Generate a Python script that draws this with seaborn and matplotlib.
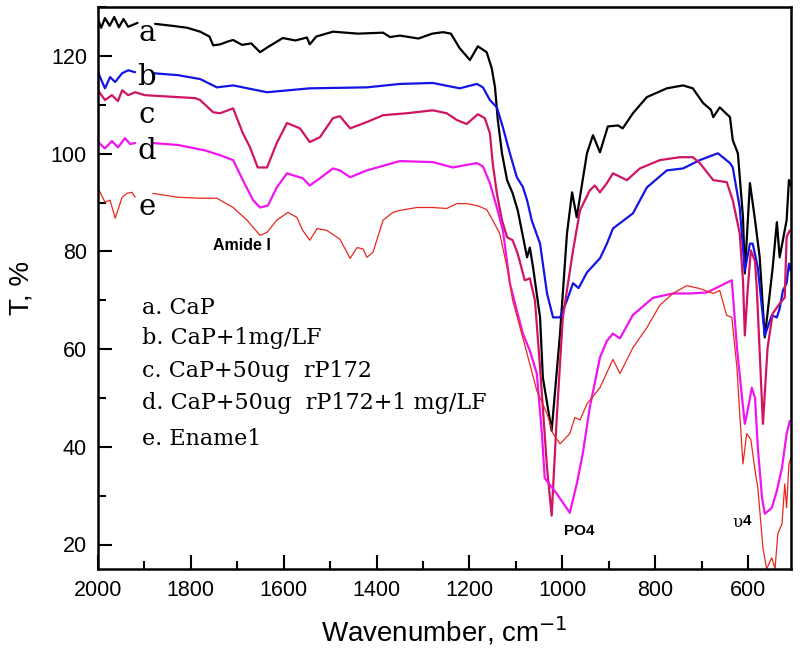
import numpy as np
import pandas as pd
import seaborn as sns
import matplotlib.pyplot as plt
from matplotlib.ticker import MultipleLocator

nan = np.nan

# FTIR spectra (wavenumber in cm-1, transmittance in %)
# nan marks the break in each trace where the curve letter sits
wn_a = [2000, 1993, 1985, 1975, 1965, 1955, 1945, 1935, 1915, 1905, 1877, 1840, 1808, 1780,
        1760, 1752, 1737, 1720, 1709, 1690, 1670, 1651, 1635, 1602, 1575, 1550, 1544, 1530,
        1494, 1440, 1386, 1371, 1350, 1310, 1280, 1257, 1240, 1221, 1199, 1182, 1163, 1152,
        1145, 1139, 1130, 1119, 1107, 1096, 1076, 1070, 1063, 1048, 1042, 1023, 1005, 990,
        979, 969, 947, 934, 919, 902, 880, 870, 848, 818, 775, 740, 719, 697, 680, 675, 661,
        639, 633, 622, 611, 607, 596, 585, 575, 564, 547, 538, 532, 517, 512, 508]
t_a = [127.5, 125.8, 127.8, 126.2, 128.0, 125.9, 127.6, 126.0, 126.8, nan, 126.6, 126.2, 125.8,
       125.0, 124.0, 122.2, 122.4, 123.0, 123.3, 122.3, 122.6, 120.8, 121.8, 123.7, 123.2,
       123.8, 122.4, 124.0, 125.0, 124.6, 124.8, 123.9, 124.2, 123.6, 124.6, 124.9, 124.6,
       121.6, 119.2, 122.0, 120.8, 117.5, 113.6, 106.9, 100.1, 94.6, 91.9, 88.4, 78.8, 80.8,
       76.7, 66.5, 54.2, 43.3, 63.2, 83.7, 92.1, 87.0, 100.1, 103.8, 100.3, 105.6, 105.8,
       105.2, 108.3, 111.6, 113.4, 114.0, 113.4, 110.4, 109.0, 107.5, 109.5, 107.5, 102.8,
       100.1, 87.0, 75.5, 94.0, 86.4, 78.8, 62.4, 76.7, 86.0, 78.8, 86.4, 94.6, 93.5]

wn_b = [2000, 1985, 1974, 1963, 1948, 1935, 1920, 1905, 1882, 1828, 1780, 1744, 1709, 1636,
        1544, 1421, 1350, 1279, 1221, 1184, 1171, 1156, 1141, 1128, 1113, 1098, 1085, 1076,
        1066, 1048, 1033, 1020, 1005, 990, 977, 965, 947, 919, 904, 891, 848, 818, 775, 740,
        704, 665, 639, 633, 618, 607, 596, 590, 579, 564, 549, 538, 532, 525, 517, 512, 508]
t_b = [116.7, 113.4, 115.7, 114.7, 116.5, 117.1, 116.7, nan, 116.5, 116.1, 115.3, 113.6, 114.0,
       112.6, 113.4, 113.6, 114.3, 114.5, 113.4, 114.3, 113.6, 111.0, 109.5, 105.4, 100.1,
       95.2, 93.2, 90.5, 86.4, 81.6, 71.4, 66.5, 66.5, 70.0, 73.5, 72.5, 75.7, 78.6, 81.6,
       84.7, 87.8, 93.1, 96.6, 97.0, 98.7, 100.1, 98.1, 97.2, 89.0, 76.1, 81.6, 81.6, 76.7,
       62.8, 66.9, 66.5, 68.3, 72.0, 73.5, 77.5, 76.0]

wn_c = [2000, 1985, 1970, 1957, 1948, 1935, 1920, 1899, 1828, 1791, 1780, 1752, 1737, 1709,
        1688, 1673, 1656, 1636, 1615, 1593, 1565, 1544, 1522, 1494, 1479, 1457, 1421, 1386,
        1335, 1279, 1249, 1227, 1206, 1182, 1167, 1156, 1150, 1141, 1130, 1119, 1107, 1096,
        1081, 1070, 1059, 1048, 1033, 1023, 1012, 999, 977, 962, 941, 930, 919, 904, 891,
        861, 833, 790, 747, 719, 704, 675, 646, 633, 618, 611, 607, 601, 594, 585, 581, 568,
        558, 547, 532, 521, 517, 510]
t_c = [113.0, 111.0, 112.0, 110.8, 113.0, 112.0, 112.6, 112.0, 111.6, 111.4, 111.0, 108.5,
       108.3, 109.3, 104.2, 101.4, 97.2, 97.2, 102.2, 106.3, 105.2, 102.4, 103.4, 107.3,
       107.7, 105.2, 106.5, 107.9, 108.3, 108.9, 108.3, 106.9, 106.1, 108.1, 107.3, 104.2,
       98.1, 91.9, 86.4, 82.9, 82.3, 79.5, 74.1, 74.5, 70.0, 56.2, 35.7, 25.9, 46.0, 66.5,
       80.2, 88.4, 92.5, 93.5, 92.1, 94.0, 96.0, 94.6, 97.0, 98.7, 99.3, 99.3, 98.1, 94.6,
       94.2, 90.5, 83.7, 74.0, 62.8, 72.0, 80.2, 78.0, 72.0, 44.7, 60.3, 67.3, 69.3, 70.6,
       83.0, 84.3]

wn_d = [2000, 1985, 1970, 1957, 1942, 1931, 1920, 1905, 1882, 1828, 1770, 1737, 1709, 1688,
        1666, 1651, 1634, 1615, 1593, 1580, 1559, 1544, 1522, 1494, 1479, 1457, 1421, 1350,
        1279, 1236, 1184, 1171, 1156, 1141, 1128, 1113, 1098, 1085, 1070, 1055, 1044, 1038,
        1012, 984, 969, 956, 941, 919, 904, 891, 876, 848, 805, 762, 725, 689, 667, 644, 635,
        624, 613, 607, 601, 592, 585, 579, 570, 564, 549, 538, 527, 517, 510]
t_d = [102.4, 101.1, 102.6, 101.3, 103.2, 102.0, 102.2, nan, 102.2, 101.8, 100.7, 99.7, 98.7,
       94.6, 90.5, 89.0, 89.4, 93.1, 96.0, 95.6, 95.0, 93.5, 95.0, 97.0, 96.6, 95.2, 96.6,
       98.5, 98.3, 97.2, 98.1, 97.4, 94.0, 89.0, 84.3, 73.5, 67.9, 63.2, 59.7, 55.0, 42.7,
       33.6, 30.4, 26.5, 32.4, 38.6, 48.0, 58.3, 61.7, 63.2, 62.2, 67.0, 70.5, 71.4, 71.4,
       71.6, 72.6, 73.7, 74.1, 60.3, 50.1, 44.7, 47.4, 52.1, 50.0, 39.8, 29.6, 26.3, 27.5,
       31.0, 35.7, 42.7, 45.3]

wn_e = [2000, 1985, 1974, 1963, 1948, 1938, 1927, 1920, 1905, 1882, 1828, 1780, 1744, 1709,
        1679, 1651, 1636, 1615, 1591, 1572, 1559, 1544, 1528, 1507, 1479, 1457, 1442, 1429,
        1421, 1408, 1386, 1365, 1350, 1313, 1279, 1249, 1227, 1206, 1184, 1163, 1150, 1135,
        1119, 1107, 1091, 1076, 1055, 1033, 1020, 1005, 984, 973, 962, 947, 919, 891, 876,
        848, 818, 790, 762, 732, 704, 675, 661, 646, 635, 624, 618, 611, 603, 594, 585, 579,
        568, 560, 549, 542, 536, 527, 521, 517, 512, 508]
t_e = [93.0, 90.1, 90.5, 86.8, 91.1, 91.9, 92.1, 91.1, nan, 91.9, 91.1, 90.9, 90.9, 89.0,
       86.4, 83.3, 83.9, 86.4, 88.0, 87.0, 84.3, 82.3, 84.7, 84.3, 82.5, 78.6, 80.8, 80.5,
       78.8, 79.8, 86.4, 88.0, 88.4, 89.0, 89.0, 88.8, 89.8, 89.8, 89.4, 88.6, 86.4, 83.7,
       76.7, 70.0, 64.4, 59.1, 51.5, 46.8, 42.7, 40.6, 42.7, 46.0, 45.5, 48.8, 52.1, 57.9,
       55.0, 60.3, 64.4, 69.0, 71.4, 73.0, 72.4, 71.4, 72.0, 66.9, 66.5, 56.2, 46.8, 36.5,
       42.7, 41.5, 35.1, 31.6, 19.3, 15.0, 17.3, 15.0, 22.2, 24.2, 32.4, 27.5, 36.5, 37.7]

letters = ["a", "b", "c", "d", "e"]
letter_y = [124.7, 115.8, 108.0, 100.6, 89.2]
legend_lines = ["a. CaP", "b. CaP+1mg/LF", "c. CaP+50ug  rP172",
                "d. CaP+50ug  rP172+1 mg/LF", "e. Ename1"]
legend_y = [68.5, 62.2, 55.5, 49.0, 41.6]
colors = ["#000000", "#1414E6", "#D01464", "#F014F0", "#E8281E"]
widths = [1.6, 1.6, 1.6, 1.6, 0.9]

sns.set_theme(style="ticks")
plt.rcParams['font.family'] = ['Liberation Sans', 'DejaVu Sans']
plt.rcParams['text.color'] = 'black'
plt.rcParams['axes.labelcolor'] = 'black'

fig = plt.figure(figsize=(8, 6.6), dpi=100)
ax = fig.add_axes([0.1225, 0.138, 0.866, 0.851])

series = [(wn_a, t_a), (wn_b, t_b), (wn_c, t_c), (wn_d, t_d), (wn_e, t_e)]
for i, (wn, t) in enumerate(series):
    df = pd.DataFrame({"wn": wn, "T": t})
    # split at the nan break so the two pieces are drawn apart
    seg_id = df["T"].isna().cumsum()
    for _, seg in df.dropna().groupby(seg_id[df["T"].notna()]):
        sns.lineplot(data=seg, x="wn", y="T", ax=ax, color=colors[i],
                     linewidth=widths[i], sort=False, estimator=None)

ax.set_xlim(2000, 508)
ax.set_ylim(15, 130)
ax.xaxis.set_major_locator(MultipleLocator(200))
ax.xaxis.set_minor_locator(MultipleLocator(100))
ax.yaxis.set_major_locator(MultipleLocator(20))
ax.yaxis.set_minor_locator(MultipleLocator(10))
ax.tick_params(which="major", direction="in", length=10, width=1.5, labelsize=15.5,
               top=False, right=False, pad=8, colors="black")
ax.tick_params(which="minor", direction="in", length=6, width=1.5, top=False, right=False,
               colors="black")
for s in ax.spines.values():
    s.set_linewidth(1.8)
    s.set_color("black")

ax.set_xlabel("Wavenumber, cm$^{-1}$", fontsize=20, labelpad=10)
ax.set_ylabel("T, %", fontsize=20, labelpad=12)

for lab, y in zip(letters, letter_y):
    ax.text(1895, y, lab, fontsize=21, family="DejaVu Serif", ha="center", va="center")

for line, y in zip(legend_lines, legend_y):
    ax.text(1906, y, line, fontsize=16, family="DejaVu Serif", ha="left", va="center")

ax.text(1690, 81.3, "Amide I", fontsize=11.5, fontweight="bold", ha="center", va="center")
ax.text(964, 22.8, "PO4", fontsize=11, fontweight="bold", ha="center", va="center")
ax.text(612, 24.6, "\u03c5", fontsize=12, family="DejaVu Serif", ha="right", va="center")
ax.text(612, 24.8, "4", fontsize=11, fontweight="bold", ha="left", va="center")

fig.savefig("out.png", dpi=100)
